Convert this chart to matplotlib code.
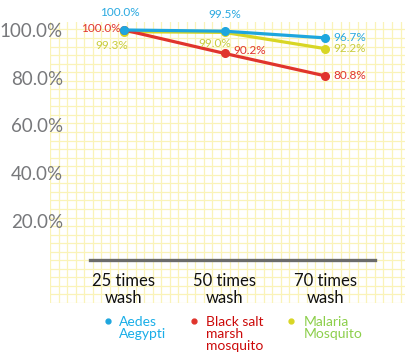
import numpy as np
import matplotlib
matplotlib.use("Agg")
import matplotlib.pyplot as plt
from matplotlib.lines import Line2D

plt.rcParams["font.family"] = ["Lato", "DejaVu Sans"]

categories = ["25 times\nwash", "50 times\nwash", "70 times\nwash"]
series_names = ["Aedes\nAegypti", "Black salt\nmarsh\nmosquito", "Malaria\nMosquito"]
aedes = [100.0, 99.5, 96.7]
black_salt = [100.0, 90.2, 80.8]
malaria = [99.3, 99.0, 92.2]
y_ticks = [20, 40, 60, 80, 100]
y_tick_labels = ["20.0%", "40.0%", "60.0%", "80.0%", "100.0%"]

line_colors = ["#1ea6de", "#e0342c", "#d8d624"]
label_colors = ["#2aa9e0", "#e0342c", "#c8cc3c"]
legend_text_colors = ["#19aee8", "#cc0a0a", "#8ccf4a"]
z_orders = [5, 4, 3]

# label offsets in pixels (dx, dy, ha, va)
offsets = [
    [(-4, 12, "center", "bottom"), (0, 11, "center", "bottom"), (8, 0, "left", "center")],
    [(-3, 1, "right", "center"), (9, 3, "left", "center"), (8, 0, "left", "center")],
    [(-12, -8, "center", "top"), (-10, -6, "center", "top"), (8, 0, "left", "center")],
]

W, H = 417, 363
fig = plt.figure(figsize=(W / 100, H / 100), dpi=100)

# graph paper background
bg = fig.add_axes([50 / W, (H - 303) / H, 355 / W, 281 / H], zorder=0)
bg.set_xlim(0, 355)
bg.set_ylim(0, 281)
bg.set_xticks(np.arange(0, 356, 8.55))
bg.set_yticks(np.arange(0, 282, 8.55))
bg.grid(True, color="#faf3b8", lw=0.9)
bg.tick_params(length=0, labelbottom=False, labelleft=False)
for s in bg.spines.values():
    s.set_visible(False)
bg.set_facecolor("white")

ax = fig.add_axes([90 / W, (H - 260) / H, 285 / W, 238 / H], zorder=1)
ax.patch.set_alpha(0)
x = np.arange(len(categories))
ax.set_xlim(-0.338, 2.497)
ax.set_ylim(3.66, 103.35)

all_series = [aedes, black_salt, malaria]
for vals, lc, tc, offs, zo in zip(all_series, line_colors, label_colors, offsets, z_orders):
    ax.plot(x, vals, color=lc, lw=2.3, marker="o", ms=5.5, clip_on=False, zorder=zo)
    for xi, v, (dx, dy, ha, va) in zip(x, vals, offs):
        ax.annotate(f"{v:.1f}%", (xi, v), xytext=(dx * 0.72, dy * 0.72),
                    textcoords="offset points", ha=ha, va=va, color=tc,
                    fontsize=8.5, annotation_clip=False, zorder=6)

ax.set_yticks(y_ticks)
ax.set_yticklabels(y_tick_labels)
ax.tick_params(axis="y", length=0, pad=19.5, labelsize=13.5, labelcolor="#77787b")
ax.set_xticks(x)
ax.set_xticklabels(categories, fontsize=12, linespacing=1.15)
ax.tick_params(axis="x", length=0, pad=9, labelcolor="#111111")

for k in ["top", "right", "left"]:
    ax.spines[k].set_visible(False)
ax.spines["bottom"].set_color("#6b6b6b")
ax.spines["bottom"].set_linewidth(2.4)

handles = [Line2D([], [], ls="none", marker="o", ms=3.5, color=c) for c in line_colors]
leg = fig.legend(handles, series_names, loc="upper left",
                 bbox_to_anchor=(102 / W, 1 - 316 / H), ncol=3, frameon=False,
                 fontsize=10, handlelength=0.8, handletextpad=0.45,
                 columnspacing=1.6, borderpad=0, borderaxespad=0, labelspacing=0)
for t, c in zip(leg.get_texts(), legend_text_colors):
    t.set_color(c)
    t.set_linespacing(1.0)
try:
    leg._legend_handle_box.align = "top"
    for col in leg._legend_handle_box.get_children():
        col.align = "left"
        for item in col.get_children():
            item.align = "top"
except Exception:
    pass

fig.savefig("out.png", dpi=100, facecolor="white")
